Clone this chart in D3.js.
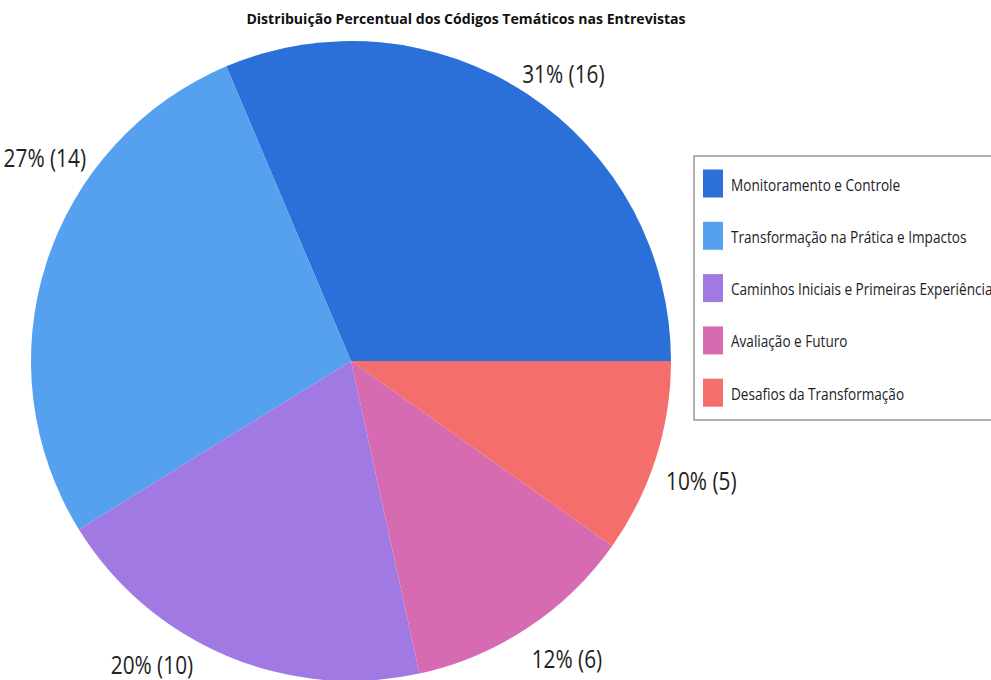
<!DOCTYPE html>
<html>
<head>
<meta charset="utf-8">
<script src="https://cdn.jsdelivr.net/npm/d3@7"></script>
<style>
  html, body { margin: 0; padding: 0; background: #fff; }
  svg { display: block; }
  text { font-family: "Open Sans", "Noto Sans", sans-serif; }
</style>
</head>
<body>
<svg id="chart" width="991" height="680"></svg>
<script>
// Thematic codes and their counts across the interviews
const categories = [
  "Monitoramento e Controle",
  "Transformação na Prática e Impactos",
  "Caminhos Iniciais e Primeiras Experiências",
  "Avaliação e Futuro",
  "Desafios da Transformação"
];
const counts = [16, 14, 10, 6, 5];
const colors = ["#2a70d8", "#55a0ef", "#a07ae2", "#d76bb1", "#f46f6b"];
const title = "Distribuição Percentual dos Códigos Temáticos nas Entrevistas";

const W = 991, H = 680;
const cx = 351, cy = 361, R = 320;
const textScale = 0.8;   // narrow text rendering

const svg = d3.select("#chart");
const data = categories.map((c, i) => ({ name: c, value: counts[i], color: colors[i] }));
const total = d3.sum(counts);

// Slices run counter-clockwise starting at 3 o'clock
const pie = d3.pie()
  .sort(null)
  .value(d => d.value)
  .startAngle(Math.PI / 2)
  .endAngle(Math.PI / 2 - 2 * Math.PI);

const arc = d3.arc().innerRadius(0).outerRadius(R);
const arcs = pie(data);

const g = svg.append("g").attr("transform", `translate(${cx},${cy})`);
g.selectAll("path.slice")
  .data(arcs)
  .join("path")
  .attr("class", "slice")
  .attr("d", arc)
  .attr("fill", d => d.data.color);

// Percentage labels outside the pie; some are nudged along the rim (radians, counter-clockwise positive)
const labelNudge = [-0.05, -0.28, -0.18, 0.044, -0.02];
const labelR = [358, 368, 363, 367, 370];
g.selectAll("text.pct")
  .data(arcs)
  .join("text")
  .attr("class", "pct")
  .attr("transform", (d, i) => {
    const mid = (d.startAngle + d.endAngle) / 2 - labelNudge[i];
    const x = Math.sin(mid) * labelR[i];
    const y = -Math.cos(mid) * labelR[i];
    return `translate(${x},${y}) scale(${textScale},1)`;
  })
  .attr("text-anchor", "middle")
  .attr("dominant-baseline", "central")
  .attr("font-size", 26)
  .attr("fill", "#222")
  .text(d => `${Math.round(d.data.value / total * 100)}% (${d.data.value})`);

// Title
svg.append("text")
  .attr("transform", `translate(466,18) scale(0.94,1)`)
  .attr("text-anchor", "middle")
  .attr("dominant-baseline", "central")
  .attr("font-size", 15)
  .attr("font-weight", "bold")
  .attr("fill", "#111")
  .text(title);

// Legend
const legend = svg.append("g").attr("transform", "translate(694,156)");
legend.append("rect")
  .attr("x", 0).attr("y", 0)
  .attr("width", 320).attr("height", 264)
  .attr("fill", "#fff")
  .attr("stroke", "#999")
  .attr("stroke-width", 1.5);

const items = legend.selectAll("g.item")
  .data(data)
  .join("g")
  .attr("class", "item")
  .attr("transform", (d, i) => `translate(9,${13.5 + i * 52.3})`);

items.append("rect")
  .attr("width", 20).attr("height", 28)
  .attr("fill", d => d.color);

items.append("text")
  .attr("transform", `translate(28,15) scale(0.8,1)`)
  .attr("dominant-baseline", "central")
  .attr("font-size", 17)
  .attr("fill", "#222")
  .text(d => d.name);
</script>
</body>
</html>
